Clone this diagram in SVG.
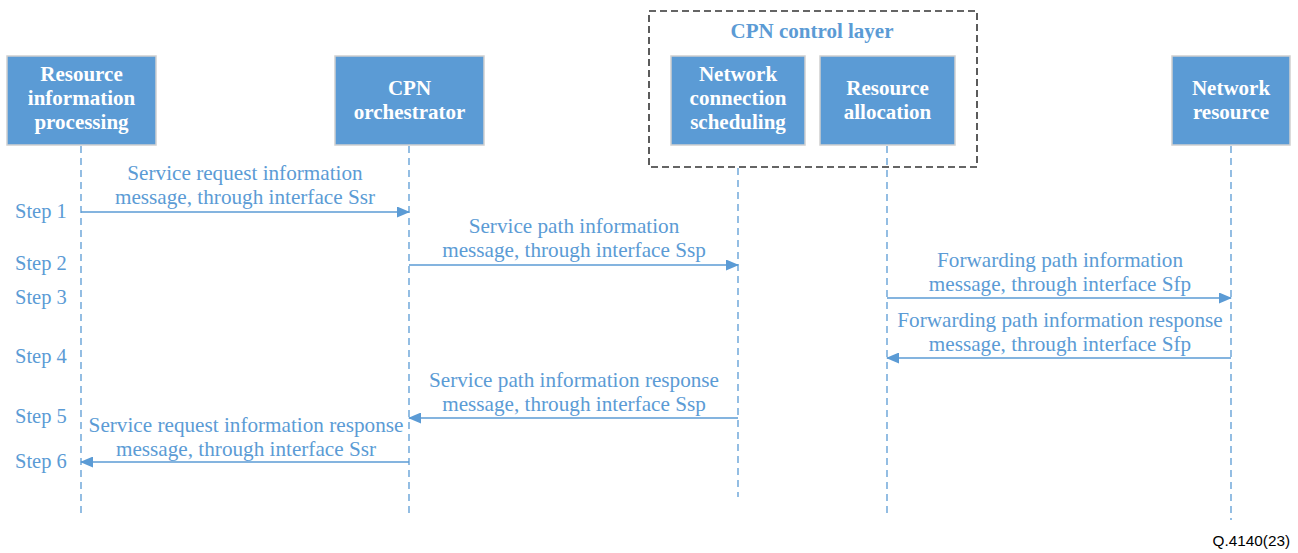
<svg xmlns="http://www.w3.org/2000/svg" width="1298" height="553" viewBox="0 0 1298 553">
<style>
.box{fill:#5b9bd5;stroke:#d0d0d0;stroke-width:1.5}
.nt{font-family:"Liberation Serif",serif;font-weight:bold;font-size:21px;fill:#ffffff;text-anchor:middle}
.life{stroke:#5b9bd5;stroke-width:1.3;stroke-dasharray:7,5;fill:none}
.msg{stroke:#5b9bd5;stroke-width:1.5;fill:none}
.ml{font-family:"Liberation Serif",serif;font-size:21.2px;fill:#5b9bd5;text-anchor:middle}
.st{font-family:"Liberation Serif",serif;font-size:20.5px;fill:#5b9bd5}
</style>
<defs>
<marker id="ah" markerWidth="13" markerHeight="11" refX="12" refY="5.5" orient="auto" markerUnits="userSpaceOnUse">
<path d="M0,0 L13,5.5 L0,11 Z" fill="#5b9bd5"/>
</marker>
</defs>
<rect width="1298" height="553" fill="#ffffff"/>
<g id="control-layer">
<rect x="649" y="11" width="328" height="156" fill="none" stroke="#333333" stroke-width="1.6" stroke-dasharray="7,4"/>
<text x="812" y="38" font-family="Liberation Serif,serif" font-weight="bold" font-size="21px" fill="#5b9bd5" text-anchor="middle">CPN control layer</text>
</g>
<g id="lifelines">
<line class="life" x1="81" y1="146" x2="81" y2="518"/>
<line class="life" x1="409" y1="146" x2="409" y2="518"/>
<line class="life" x1="738" y1="168" x2="738" y2="497"/>
<line class="life" x1="887" y1="146" x2="887" y2="518"/>
<line class="life" x1="1231" y1="146" x2="1231" y2="520"/>
</g>
<g id="n1">
<rect class="box" x="7" y="56" width="149" height="89"/>
<text class="nt" x="81.5" y="81">Resource</text>
<text class="nt" x="81.5" y="105">information</text>
<text class="nt" x="81.5" y="129">processing</text>
</g>
<g id="n2">
<rect class="box" x="335" y="56" width="149" height="89"/>
<text class="nt" x="409.5" y="95">CPN</text>
<text class="nt" x="409.5" y="119">orchestrator</text>
</g>
<g id="n3">
<rect class="box" x="671" y="56" width="134" height="89"/>
<text class="nt" x="738" y="81">Network</text>
<text class="nt" x="738" y="105">connection</text>
<text class="nt" x="738" y="129">scheduling</text>
</g>
<g id="n4">
<rect class="box" x="820" y="56" width="135" height="89"/>
<text class="nt" x="887.5" y="95">Resource</text>
<text class="nt" x="887.5" y="119">allocation</text>
</g>
<g id="n5">
<rect class="box" x="1172" y="56" width="118" height="89"/>
<text class="nt" x="1231" y="95">Network</text>
<text class="nt" x="1231" y="119">resource</text>
</g>
<g id="connectors">
<line class="msg" x1="81" y1="212" x2="409" y2="212" marker-end="url(#ah)"/>
<line class="msg" x1="409" y1="265" x2="738" y2="265" marker-end="url(#ah)"/>
<line class="msg" x1="887" y1="298" x2="1231" y2="298" marker-end="url(#ah)"/>
<line class="msg" x1="1231" y1="358" x2="887" y2="358" marker-end="url(#ah)"/>
<line class="msg" x1="738" y1="418" x2="409" y2="418" marker-end="url(#ah)"/>
<line class="msg" x1="409" y1="462" x2="81" y2="462" marker-end="url(#ah)"/>
</g>
<g id="labels">
<text class="ml" x="245" y="180">Service request information</text>
<text class="ml" x="245" y="204">message, through interface Ssr</text>
<text class="ml" x="574" y="233">Service path information</text>
<text class="ml" x="574" y="257">message, through interface Ssp</text>
<text class="ml" x="1060" y="267">Forwarding path information</text>
<text class="ml" x="1060" y="291">message, through interface Sfp</text>
<text class="ml" x="1060" y="327">Forwarding path information response</text>
<text class="ml" x="1060" y="351">message, through interface Sfp</text>
<text class="ml" x="574" y="387">Service path information response</text>
<text class="ml" x="574" y="411">message, through interface Ssp</text>
<text class="ml" x="246" y="432">Service request information response</text>
<text class="ml" x="246" y="456">message, through interface Ssr</text>
</g>
<g id="steps">
<text class="st" x="15" y="218">Step 1</text>
<text class="st" x="15" y="270">Step 2</text>
<text class="st" x="15" y="304">Step 3</text>
<text class="st" x="15" y="363">Step 4</text>
<text class="st" x="15" y="423">Step 5</text>
<text class="st" x="15" y="468">Step 6</text>
</g>
<text x="1290" y="546" font-family="Liberation Sans,sans-serif" font-size="15.3px" fill="#000000" text-anchor="end">Q.4140(23)</text>
</svg>
